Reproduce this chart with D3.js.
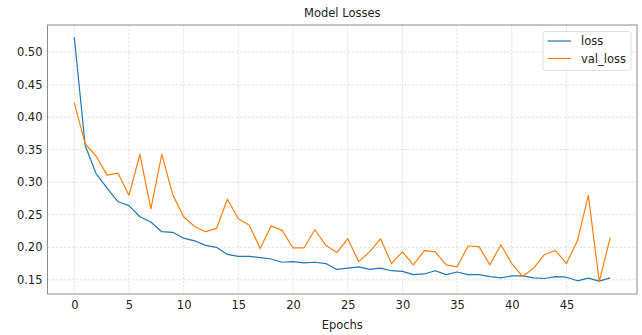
<!DOCTYPE html>
<html>
<head>
<meta charset="utf-8">
<script src="https://cdn.jsdelivr.net/npm/d3@7"></script>
<style>
  body { margin: 0; background: #fff; }
  svg { font-family: "DejaVu Sans", sans-serif; }
</style>
</head>
<body>
<div id="chart"></div>
<script>
const epochs = d3.range(50);

const loss = [0.523, 0.356, 0.313, 0.291, 0.270, 0.264, 0.247, 0.239, 0.224, 0.223,
  0.214, 0.210, 0.203, 0.200, 0.189, 0.186, 0.186, 0.184, 0.182, 0.177,
  0.178, 0.176, 0.177, 0.175, 0.166, 0.168, 0.170, 0.166, 0.168, 0.164,
  0.163, 0.158, 0.159, 0.164, 0.158, 0.162, 0.158, 0.158, 0.155, 0.153,
  0.156, 0.156, 0.153, 0.152, 0.155, 0.154, 0.1485, 0.1525, 0.148, 0.153];

const valLoss = [0.422, 0.359, 0.340, 0.311, 0.314, 0.280, 0.343, 0.259, 0.343, 0.281,
  0.247, 0.232, 0.224, 0.229, 0.274, 0.244, 0.234, 0.198, 0.233, 0.226,
  0.199, 0.199, 0.227, 0.203, 0.192, 0.213, 0.178, 0.193, 0.213, 0.175,
  0.193, 0.173, 0.195, 0.193, 0.173, 0.170, 0.202, 0.201, 0.173, 0.204,
  0.175, 0.155, 0.168, 0.189, 0.195, 0.175, 0.210, 0.280, 0.147, 0.215];

const seriesNames = ["loss", "val_loss"];
const seriesColors = ["#1f77b4", "#ff7f0e"];
const xTicks = [0, 5, 10, 15, 20, 25, 30, 35, 40, 45];
const yTicks = [0.15, 0.20, 0.25, 0.30, 0.35, 0.40, 0.45, 0.50];

const width = 642, height = 335;
const margin = { top: 25, right: 5, bottom: 41, left: 47.5 };

const svg = d3.select("#chart").append("svg")
  .attr("width", width)
  .attr("height", height);

// matplotlib-like 5% padding
const xPad = (d3.max(epochs) - d3.min(epochs)) * 0.05;
const allVals = loss.concat(valLoss);
const yExt = d3.extent(allVals);
const yPad = (yExt[1] - yExt[0]) * 0.05;

const x = d3.scaleLinear()
  .domain([d3.min(epochs) - xPad, d3.max(epochs) + xPad])
  .range([margin.left, width - margin.right]);

const y = d3.scaleLinear()
  .domain([yExt[0] - yPad, yExt[1] + yPad])
  .range([height - margin.bottom, margin.top]);

// grid
const grid = svg.append("g").attr("class", "grid");
grid.selectAll(".gx")
  .data(xTicks)
  .join("line")
  .attr("x1", d => x(d)).attr("x2", d => x(d))
  .attr("y1", margin.top).attr("y2", height - margin.bottom)
  .attr("stroke", "#dcdcdc")
  .attr("stroke-width", 0.8)
  .attr("stroke-dasharray", "2.5,1.5");
grid.selectAll(".gy")
  .data(yTicks)
  .join("line")
  .attr("x1", margin.left).attr("x2", width - margin.right)
  .attr("y1", d => y(d)).attr("y2", d => y(d))
  .attr("stroke", "#dcdcdc")
  .attr("stroke-width", 0.8)
  .attr("stroke-dasharray", "2.5,1.5");

// axes
const xAxis = svg.append("g")
  .attr("transform", `translate(0,${height - margin.bottom})`)
  .call(d3.axisBottom(x).tickValues(xTicks).tickSize(0).tickPadding(7).tickFormat(d3.format("d")));
const yAxis = svg.append("g")
  .attr("transform", `translate(${margin.left},0)`)
  .call(d3.axisLeft(y).tickValues(yTicks).tickSize(0).tickPadding(5).tickFormat(d3.format(".2f")));

[xAxis, yAxis].forEach(a => {
  a.select(".domain").remove();
  a.selectAll("text")
    .attr("fill", "#222")
    .style("font-size", "11.5px")
    .style("font-family", "DejaVu Sans");
});

// lines
const line = d3.line()
  .x((d, i) => x(epochs[i]))
  .y(d => y(d));

[loss, valLoss].forEach((s, i) => {
  svg.append("path")
    .datum(s)
    .attr("fill", "none")
    .attr("stroke", seriesColors[i])
    .attr("stroke-width", 1.2)
    .attr("stroke-linejoin", "round")
    .attr("d", line);
});

// frame
svg.append("rect")
  .attr("x", margin.left)
  .attr("y", margin.top)
  .attr("width", width - margin.right - margin.left)
  .attr("height", height - margin.bottom - margin.top)
  .attr("fill", "none")
  .attr("stroke", "#8c8c8c")
  .attr("stroke-width", 1);

// title and label
svg.append("text")
  .attr("x", (margin.left + width - margin.right) / 2)
  .attr("y", 17)
  .attr("text-anchor", "middle")
  .attr("fill", "#222")
  .style("font-size", "11.5px")
  .text("Model Losses");

svg.append("text")
  .attr("x", (margin.left + width - margin.right) / 2)
  .attr("y", 329)
  .attr("text-anchor", "middle")
  .attr("fill", "#222")
  .style("font-size", "11.5px")
  .text("Epochs");

// legend
const legend = svg.append("g").attr("transform", "translate(543,31.5)");
legend.append("rect")
  .attr("width", 88)
  .attr("height", 39)
  .attr("rx", 2.5)
  .attr("fill", "#fff")
  .attr("fill-opacity", 0.8)
  .attr("stroke", "#d8d8d8")
  .attr("stroke-width", 0.8);

seriesNames.forEach((name, i) => {
  const g = legend.append("g").attr("transform", `translate(0,${9.5 + i * 17.5})`);
  g.append("line")
    .attr("x1", 4.5).attr("x2", 28)
    .attr("stroke", seriesColors[i])
    .attr("stroke-width", 1.2);
  g.append("text")
    .attr("x", 38)
    .attr("y", 4)
    .attr("fill", "#222")
    .style("font-size", "11.5px")
    .text(name);
});
</script>
</body>
</html>
